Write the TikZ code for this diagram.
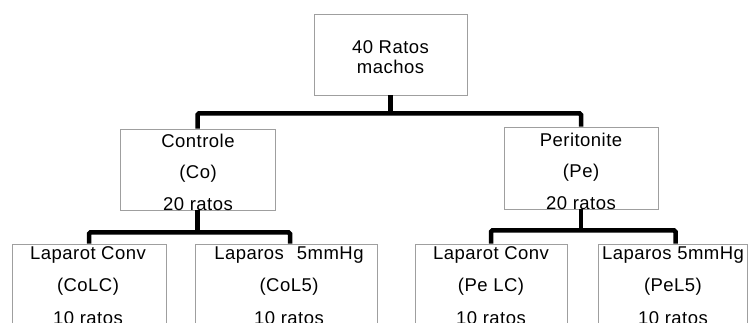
\documentclass[tikz,border=0pt]{standalone}
\usepackage{fontspec}
\setmainfont{Liberation Sans}[LetterSpace=2.5]
\usetikzlibrary{shadows}
\begin{document}
\begin{tikzpicture}[x=1pt,y=-1pt,
  box/.style={draw=gray!75, fill=white, line width=0.8pt, rectangle, inner sep=0pt,
    drop shadow={shadow xshift=1.2pt, shadow yshift=-1.2pt, fill=gray!60, opacity=1}},
  lbl/.style={align=center, anchor=north, inner sep=0pt, font=\fontsize{18.5}{31.5}\selectfont},
  lblbot/.style={lbl, font=\fontsize{18.5}{32.5}\selectfont},
  lbltop/.style={lbl, font=\fontsize{18.5}{20.5}\selectfont},
  conn/.style={line width=4.5pt, rounded corners=1.5pt}
]
\useasboundingbox (0,0) rectangle (750,322);
\clip (0,0) rectangle (750,322);
\fill[white] (0,0) rectangle (750,322);

% boxes
\node[box, minimum width=153pt, minimum height=81pt] (top)  at (390.5,54.5) {};
\node[box, minimum width=155pt, minimum height=81pt] (co)   at (197.5,169.5) {};
\node[box, minimum width=154pt, minimum height=82pt] (pe)   at (581,168) {};
\node[box, minimum width=154pt, minimum height=82pt] (colc) at (89,285) {};
\node[box, minimum width=182pt, minimum height=82pt] (col5) at (286,285) {};
\node[box, minimum width=152pt, minimum height=82pt] (pelc) at (491,285) {};
\node[box, minimum width=149pt, minimum height=82pt] (pel5) at (672.5,285) {};

% texts
\node[lbltop] (topT)  at (390.5,39) {\rule{0pt}{14pt}40 Ratos\\machos};
\node[lbl]    (coT)   at (198,133)  {\rule{0pt}{14pt}Controle\\(Co)\\20 ratos};
\node[lbl]    (peT)   at (581,132)  {\rule{0pt}{14pt}Peritonite\\(Pe)\\20 ratos};
\node[lblbot] (colcT) at (88,245)   {\rule{0pt}{14pt}Laparot Conv\\(CoLC)\\10 ratos};
\node[lblbot] (col5T) at (289,245)  {\rule{0pt}{14pt}Laparos\hspace{13pt}5mmHg\\(CoL5)\\10 ratos};
\node[lblbot] (pelcT) at (491,245)  {\rule{0pt}{14pt}Laparot Conv\\(Pe LC)\\10 ratos};
\node[lblbot] (pel5T) at (673,245)  {\rule{0pt}{14pt}Laparos 5mmHg\\(PeL5)\\10 ratos};

% connectors
\draw[conn] (top.south) -- ([yshift=-18pt]top.south);
\draw[conn] (co.north) |- ([yshift=-18pt]top.south) -| (pe.north);
\draw[conn] (co.south) -- ([yshift=-22pt]co.south);
\draw[conn] (colc.north) |- ([yshift=-22pt]co.south) -| ([xshift=4pt]col5.north);
\draw[conn] (pe.south) -- ([yshift=-21pt]pe.south);
\draw[conn] (pelc.north) |- ([yshift=-21pt]pe.south) -| ([xshift=3pt]pel5.north);
\end{tikzpicture}
\end{document}
